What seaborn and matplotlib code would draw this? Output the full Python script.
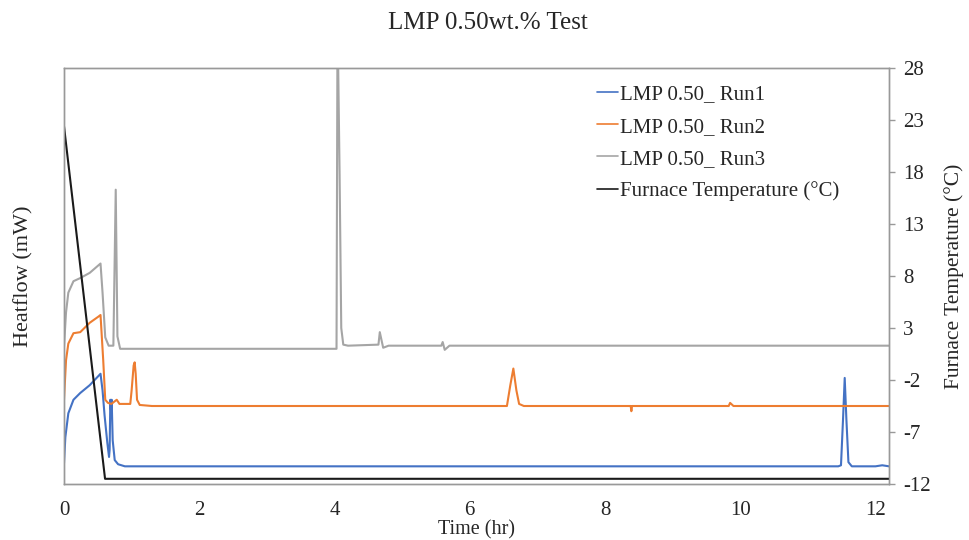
import matplotlib
matplotlib.use("Agg")
import matplotlib.pyplot as plt
import seaborn as sns
import pandas as pd

sns.set_style("white")
plt.rcParams['font.family'] = ['Liberation Serif', 'DejaVu Serif']

# ---- data (heatflow in arbitrary mW units) ----
run1_t = [0, 0.02, 0.064, 0.14, 0.24, 0.38, 0.54, 0.57, 0.60, 0.64, 0.666, 0.675, 0.685,
          0.695, 0.705, 0.72, 0.75, 0.8, 0.9, 1.0, 11.45, 11.49, 11.52, 11.545, 11.57,
          11.6, 11.65, 12.0, 12.1, 12.2]
run1_hf = [2.0, 4.5, 6.8, 8.1, 8.75, 9.5, 10.6, 9.0, 6.6, 4.0, 2.6, 3.3, 8.1,
           7.1, 8.1, 4.2, 2.3, 1.9, 1.7, 1.7, 1.7, 1.8, 6.2, 10.2, 6.2,
           2.1, 1.7, 1.7, 1.8, 1.7]

run2_t = [0, 0.03, 0.064, 0.14, 0.24, 0.38, 0.51, 0.54, 0.58, 0.61, 0.65, 0.7, 0.78, 0.82,
          0.98, 1.0, 1.03, 1.045, 1.06, 1.08, 1.12, 1.3, 6.55, 6.6, 6.645, 6.69, 6.73, 6.8,
          8.38, 8.39, 8.40, 9.83, 9.85, 9.9, 12.2]
run2_hf = [8.1, 11.9, 13.5, 14.5, 14.6, 15.5, 16.1, 16.25, 11.9, 8.1, 7.8, 7.7, 8.1, 7.7,
           7.7, 9.0, 11.4, 11.7, 10.6, 8.1, 7.6, 7.5, 7.5, 9.5, 11.1, 9.0, 7.7, 7.5,
           7.5, 7.0, 7.5, 7.5, 7.8, 7.5, 7.5]

run3_t = [0, 0.03, 0.064, 0.14, 0.24, 0.38, 0.54, 0.57, 0.61, 0.66, 0.73, 0.765, 0.79,
          0.83, 1.0, 4.03, 4.045, 4.075, 4.1, 4.13, 4.2, 4.65, 4.67, 4.72, 4.8, 5.58,
          5.6, 5.63, 5.7, 12.2]
run3_hf = [13.2, 16.5, 18.4, 19.5, 19.8, 20.3, 21.2, 18.4, 14.1, 13.3, 13.3, 28.3, 14.2,
           13.0, 13.0, 13.0, 45.0, 30.0, 15.0, 13.4, 13.3, 13.4, 14.6, 13.1, 13.3, 13.3,
           13.65, 12.9, 13.3, 13.3]

furnace_t = [0, 0.607, 12.2]
furnace_temp = [22.4, -11.5, -11.5]

temp_ticks = list(range(-12, 29, 5))
time_ticks = [0, 2, 4, 6, 8, 10, 12]

labels = ["LMP 0.50_ Run1", "LMP 0.50_ Run2", "LMP 0.50_ Run3", "Furnace Temperature (\u00b0C)"]
colors = ["#4472C4", "#ED7D31", "#A5A5A5", "#1a1a1a"]

fig = plt.figure(figsize=(9.69, 5.40), dpi=100)
ax = fig.add_axes([64/969, 1-484/540, (889-64)/969, (484-68)/540])
ax2 = ax.twinx()

for t, h, lab, c in [(run1_t, run1_hf, labels[0], colors[0]),
                     (run2_t, run2_hf, labels[1], colors[1]),
                     (run3_t, run3_hf, labels[2], colors[2])]:
    df = pd.DataFrame({"t": t, "h": h})
    sns.lineplot(data=df, x="t", y="h", ax=ax, color=c, lw=1.5, label=lab,
                 estimator=None, legend=False)

dff = pd.DataFrame({"t": furnace_t, "T": furnace_temp})
sns.lineplot(data=dff, x="t", y="T", ax=ax2, color=colors[3], lw=1.5, label=labels[3],
             estimator=None, legend=False)

ax.set_xlim(0, 12.2)
ax.set_ylim(0, 40)
ax2.set_ylim(-12, 28)
ax.set_xticks(time_ticks)
ax.set_yticks([])
ax2.set_yticks(temp_ticks)
ax2.set_yticklabels([str(v) for v in temp_ticks])

ax.tick_params(axis='x', length=0, pad=12, labelsize=15)
ax2.tick_params(axis='y', direction='out', length=4, width=1, color='#999999',
                pad=6, labelsize=15, right=True)

for a in (ax, ax2):
    for s in a.spines.values():
        s.set_color('#999999')
        s.set_linewidth(1.0)

ax.set_xlabel("Time (hr)", fontsize=14.5)
ax.xaxis.set_label_coords(0.5, -0.086)
ax.set_ylabel("Heatflow (mW)", fontsize=16, labelpad=22)
ax2.set_ylabel("Furnace Temperature (\u00b0C)", fontsize=15.5, labelpad=10)

fig.text(0.503, 0.957, "LMP 0.50wt.% Test", ha='center', va='center', fontsize=18)

h1, l1 = ax.get_legend_handles_labels()
h2, l2 = ax2.get_legend_handles_labels()
leg = ax2.legend(h1 + h2, l1 + l2, loc='upper left', bbox_to_anchor=(597/969, 1-85/540),
                 bbox_transform=fig.transFigure, frameon=False, fontsize=15,
                 handlelength=1.0, handletextpad=0.1, labelspacing=0.6,
                 borderpad=0, borderaxespad=0)
for line in leg.get_lines():
    line.set_linewidth(1.2)

fig.savefig("out.png", dpi=100)
